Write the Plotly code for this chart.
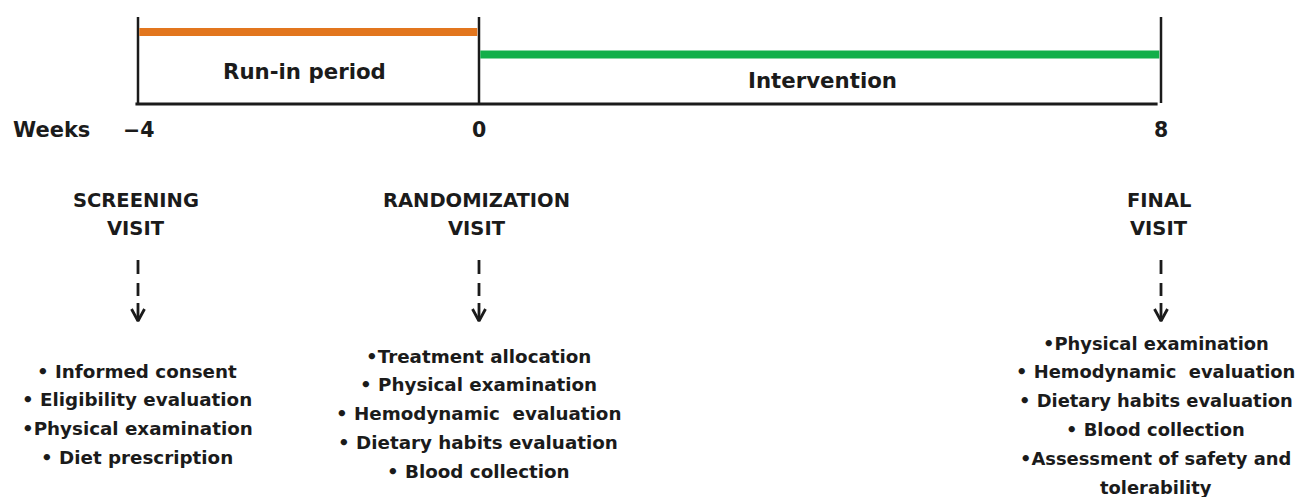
import plotly.graph_objects as go

# ---------------- data ----------------
week_ticks = [-4, 0, 8]
week_tick_labels = ["\u22124", "0", "8"]
axis_title = "Weeks"

period_names = ["Run-in period", "Intervention"]
period_start = [-4, 0]
period_end = [0, 8]
period_colors = ["#E2761E", "#12AF4A"]

visit_names = ["SCREENING", "RANDOMIZATION", "FINAL"]
visit_weeks = [-4, 0, 8]

screening_items = ["\u2022 Informed consent", "\u2022 Eligibility evaluation",
                   "\u2022Physical examination", "\u2022 Diet prescription"]
randomization_items = ["\u2022Treatment allocation", "\u2022 Physical examination",
                       "\u2022 Hemodynamic  evaluation", "\u2022 Dietary habits evaluation",
                       "\u2022 Blood collection"]
final_items = ["\u2022Physical examination", "\u2022 Hemodynamic  evaluation",
               "\u2022 Dietary habits evaluation", "\u2022 Blood collection",
               "\u2022Assessment of safety and", "tolerability"]
visit_items = [screening_items, randomization_items, final_items]

# ---------------- layout helpers ----------------
# the page body has an 8px margin, so the figure starts at page pixel (8, 8)
OFF = 8
W, H = 1307 - OFF, 497 - OFF
px_per_week = 85.25
x0 = -4 - (138 - OFF) / px_per_week
XR = [x0, x0 + W / px_per_week]
YR = [OFF + H, OFF]          # y expressed in page pixels
FONT = "DejaVu Sans"
INK = "#1b1b1b"


def f(size):
    return dict(size=size, family=FONT, color=INK, weight="bold")


fig = go.Figure()

# timeline baseline
fig.add_trace(go.Scatter(x=[week_ticks[0] - 0.03, week_ticks[-1] - 0.04], y=[104, 104],
                         mode="lines", line=dict(color=INK, width=3), hoverinfo="skip"))
# vertical tick bars
for w in week_ticks:
    fig.add_trace(go.Scatter(x=[w, w], y=[17, 103], mode="lines",
                             line=dict(color=INK, width=2.5), hoverinfo="skip"))
# period bars
period_y = [32, 54.5]
for s, e, c, yy in zip(period_start, period_end, period_colors, period_y):
    fig.add_trace(go.Scatter(x=[s + 0.015, e - 0.02], y=[yy, yy], mode="lines",
                             line=dict(color=c, width=8), hoverinfo="skip"))

ann = []
# period labels
label_y = [71, 80]
label_shift = [-0.05, 0.03]
for n, s, e, yy, sh in zip(period_names, period_start, period_end, label_y, label_shift):
    ann.append(dict(x=(s + e) / 2 + sh, y=yy, text=n, font=f(21.3)))
# week labels
ann.append(dict(x=-4 - 87 / px_per_week, y=130, text=axis_title, font=f(21)))
for w, t in zip(week_ticks, week_tick_labels):
    ann.append(dict(x=w, y=130, text=t, font=f(20.5)))

# visits
item_start = [371, 356, 343]
head_shift = [-0.02, -0.025, -0.02]
list_shift = [-0.01, -0.01, -0.06]
list_size = [18.3, 18.3, 17.9]
for vn, vw, items, y0, hs, ls, sz in zip(visit_names, visit_weeks, visit_items, item_start,
                                         head_shift, list_shift, list_size):
    ann.append(dict(x=vw + hs, y=200, text=vn, font=f(19.5)))
    ann.append(dict(x=vw + hs, y=228, text="VISIT", font=f(19.5)))
    for i, it in enumerate(items):
        ann.append(dict(x=vw + ls, y=y0 + i * 28.8, text=it, font=f(sz)))
    # dashed arrow
    xs, ys = [], []
    for a, b in [(260, 274), (283, 296), (303, 321)]:
        xs += [vw, vw, None]
        ys += [a, b, None]
    dx = 6.5 / px_per_week
    xs += [vw - dx, vw, vw + dx]
    ys += [309, 321, 309]
    fig.add_trace(go.Scatter(x=xs, y=ys, mode="lines", line=dict(color=INK, width=2.8),
                             hoverinfo="skip"))

for a in ann:
    a.update(xref="x", yref="y", showarrow=False, xanchor="center", yanchor="middle")

fig.update_layout(
    width=W, height=H, margin=dict(l=0, r=0, t=0, b=0),
    paper_bgcolor="white", plot_bgcolor="white", showlegend=False,
    xaxis=dict(range=XR, visible=False, fixedrange=True),
    yaxis=dict(range=YR, visible=False, fixedrange=True),
    annotations=ann,
)
fig.write_html("out.html")
